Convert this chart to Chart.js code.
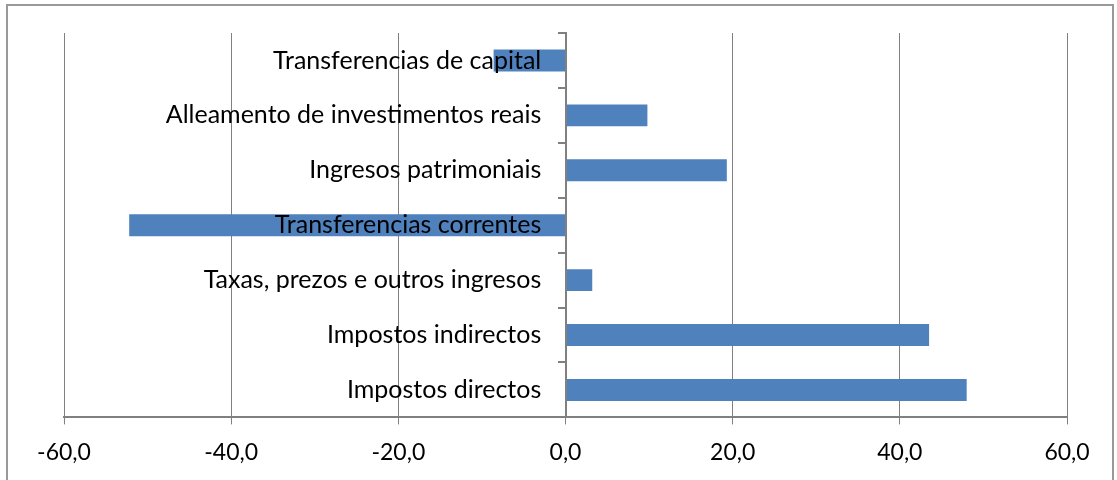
<!DOCTYPE html>
<html>
<head>
<meta charset="utf-8">
<script src="https://cdn.jsdelivr.net/npm/chart.js@4"></script>
<style>
  html, body { margin: 0; padding: 0; background: #fff; width: 1117px; height: 480px; overflow: hidden; }
  #frame { position: absolute; left: 6px; top: 4px; width: 1108px; height: 520px; border: 2px solid #999; box-sizing: border-box; pointer-events: none; }
  canvas { position: absolute; left: 0; top: 0; }
</style>
</head>
<body>
<canvas id="c" width="1117" height="480"></canvas>
<div id="frame"></div>
<script>
const categories = [
  "Transferencias de capital",
  "Alleamento de investimentos reais",
  "Ingresos patrimoniais",
  "Transferencias correntes",
  "Taxas, prezos e outros ingresos",
  "Impostos indirectos",
  "Impostos directos"
];
const values = [-8.6, 9.8, 19.3, -52.2, 3.2, 43.5, 48.0];
const xTicks = [-60, -40, -20, 0, 20, 40, 60];

const FONT = "Lato, 'Open Sans', sans-serif";
const GRID = "#808080";

new Chart(document.getElementById('c'), {
  type: 'bar',
  data: {
    labels: categories,
    datasets: [{
      data: values,
      backgroundColor: '#4F81BD',
      borderWidth: 0,
      barPercentage: 0.8,
      categoryPercentage: 0.5
    }]
  },
  options: {
    indexAxis: 'y',
    responsive: false,
    animation: false,
    events: [],
    layout: { padding: { left: 64, right: 50, top: 33, bottom: 0 } },
    plugins: { legend: { display: false }, tooltip: { enabled: false } },
    scales: {
      x: {
        type: 'linear',
        min: xTicks[0],
        max: xTicks[xTicks.length - 1],
        afterBuildTicks: (axis) => { axis.ticks = xTicks.map(v => ({ value: v })); },
        ticks: {
          color: '#000',
          font: { family: FONT, size: 23 },
          padding: 14,
          maxRotation: 0,
          callback: (v) => Number(v).toFixed(1).replace('.', ',')
        },
        grid: { color: GRID, lineWidth: 1, tickLength: 7, drawTicks: true },
        border: { color: GRID, width: 2 }
      },
      y: {
        type: 'category',
        position: { x: 0 },
        offset: true,
        ticks: { display: false },
        grid: { drawOnChartArea: false, offset: true, drawTicks: true, tickLength: 7, color: GRID, lineWidth: 2 },
        border: { color: GRID, width: 2, z: 1 }
      },
      yLabels: {
        type: 'category',
        axis: 'y',
        position: { x: -2.9 },
        offset: true,
        grid: { display: false },
        border: { display: false },
        ticks: {
          color: '#000',
          font: { family: FONT, size: 25 },
          padding: 0,
          z: 1
        }
      }
    }
  }
});
</script>
</body>
</html>
